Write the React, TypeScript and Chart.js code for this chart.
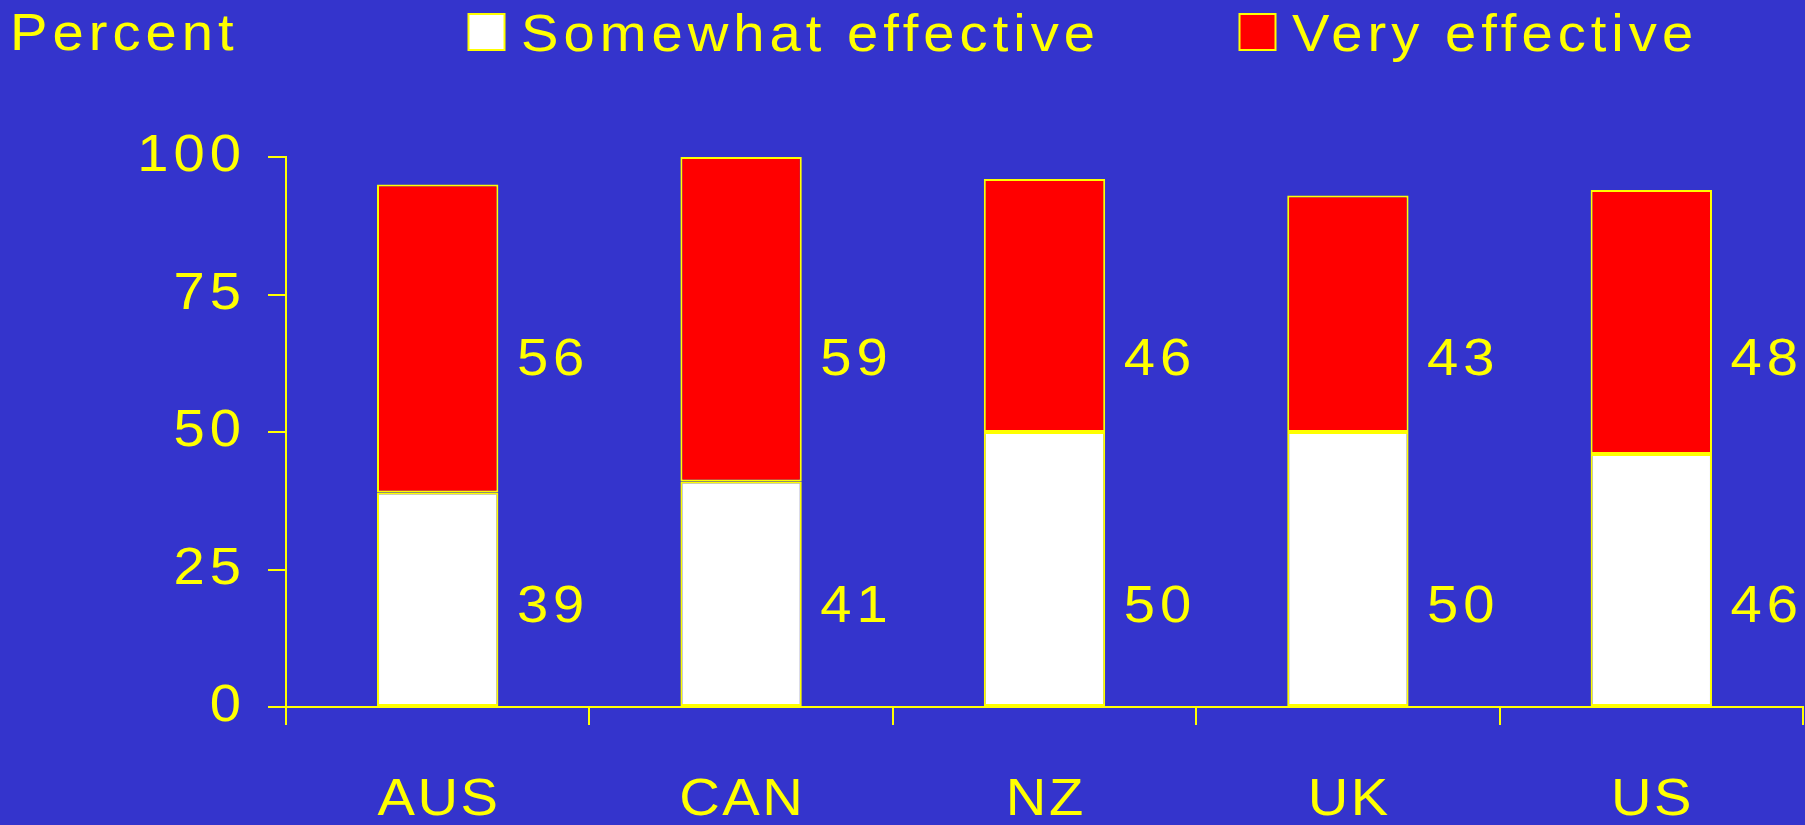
import React, { useEffect, useRef } from 'react';
import { Chart, registerables } from 'chart.js';

Chart.register(...registerables);

const categories = ['AUS', 'CAN', 'NZ', 'UK', 'US'];
const somewhatEffective = [39, 41, 50, 50, 46];
const veryEffective = [56, 59, 46, 43, 48];
const seriesNames = ['Somewhat effective', 'Very effective'];
const yTickValues = [0, 25, 50, 75, 100];
const axisTitle = 'Percent';

const BG = '#3434CC';
const YELLOW = '#FFFF00';
const FONT = "'Liberation Sans', Arial, Helvetica, sans-serif";
const STRETCH = 1.08;
const SPACING = 5;

// Draw horizontally stretched, letter-spaced text (like the original slide font)
function drawText(
  ctx: CanvasRenderingContext2D,
  text: string,
  x: number,
  y: number,
  align: 'left' | 'right' | 'center',
  baseline: CanvasTextBaseline,
  size: number,
  spacing: number = SPACING
) {
  ctx.save();
  ctx.font = `${size}px ${FONT}`;
  (ctx as any).letterSpacing = `${spacing / STRETCH}px`;
  ctx.textAlign = 'left';
  ctx.textBaseline = baseline;
  const w = (ctx.measureText(text).width - spacing / STRETCH) * STRETCH;
  let x0 = x;
  if (align === 'right') x0 = x - w;
  else if (align === 'center') x0 = x - w / 2;
  ctx.translate(x0, y);
  ctx.scale(STRETCH, 1);
  ctx.fillText(text, 0, 0);
  ctx.restore();
}

const bgPlugin = {
  id: 'bgPlugin',
  beforeDraw(chart: any) {
    const ctx = chart.ctx;
    ctx.save();
    ctx.fillStyle = BG;
    ctx.fillRect(0, 0, chart.width, chart.height);
    ctx.restore();
  },
};

const tickLabelsPlugin = {
  id: 'tickLabels',
  afterDraw(chart: any, _args: any, opts: any) {
    const ctx = chart.ctx;
    ctx.save();
    ctx.fillStyle = YELLOW;
    const ys = chart.scales.y;
    ys.ticks.forEach((t: any) => {
      drawText(ctx, String(t.value), ys.right - opts.yOffset, ys.getPixelForValue(t.value), 'right', 'middle', 52);
    });
    const xs = chart.scales.x;
    xs.ticks.forEach((_t: any, i: number) => {
      drawText(ctx, String(chart.data.labels[i]), xs.getPixelForTick(i), xs.top + opts.xOffset, 'center', 'middle', 52, 2.5);
    });
    ctx.restore();
  },
};

const labelsPlugin = {
  id: 'valueLabels',
  afterDatasetsDraw(chart: any, _args: any, opts: any) {
    const ctx = chart.ctx;
    const yScale = chart.scales.y;
    ctx.save();
    ctx.fillStyle = YELLOW;
    chart.data.datasets.forEach((ds: any, i: number) => {
      const meta = chart.getDatasetMeta(i);
      meta.data.forEach((bar: any, j: number) => {
        const x = bar.x + bar.width / 2 + opts.gap;
        const y = yScale.getPixelForValue(opts.anchors[i]);
        drawText(ctx, String(ds.data[j]), x, y, 'left', 'middle', 52);
      });
    });
    ctx.restore();
  },
};

const legendPlugin = {
  id: 'customLegend',
  afterDraw(chart: any, _args: any, opts: any) {
    const ctx = chart.ctx;
    ctx.save();
    ctx.fillStyle = YELLOW;
    drawText(ctx, opts.title, opts.titleX, opts.baseline - 1, 'left', 'alphabetic', 52);
    chart.data.datasets.forEach((ds: any, i: number) => {
      const bx = opts.boxX[i];
      ctx.fillStyle = ds.backgroundColor;
      ctx.fillRect(bx, opts.boxY, opts.boxW, opts.boxH);
      ctx.strokeStyle = YELLOW;
      ctx.lineWidth = 2;
      ctx.strokeRect(bx, opts.boxY, opts.boxW, opts.boxH);
      ctx.fillStyle = YELLOW;
      drawText(ctx, ds.label, bx + opts.boxW + opts.textGap, opts.baseline, 'left', 'alphabetic', 52);
    });
    ctx.restore();
  },
};

export default function App() {
  const canvasRef = useRef<HTMLCanvasElement | null>(null);

  useEffect(() => {
    document.body.style.margin = '0';
    document.body.style.background = BG;
    const canvas = canvasRef.current;
    if (!canvas) return;
    const chart = new Chart(canvas, {
      type: 'bar',
      data: {
        labels: categories,
        datasets: [
          {
            label: seriesNames[0],
            data: somewhatEffective,
            backgroundColor: '#FFFFFF',
            borderColor: YELLOW,
            borderWidth: 2,
            borderSkipped: false,
            barPercentage: 0.4,
            categoryPercentage: 1,
          },
          {
            label: seriesNames[1],
            data: veryEffective,
            backgroundColor: '#FF0000',
            borderColor: YELLOW,
            borderWidth: 2,
            borderSkipped: false,
            barPercentage: 0.4,
            categoryPercentage: 1,
          },
        ],
      },
      options: {
        animation: false,
        responsive: false,
        maintainAspectRatio: false,
        devicePixelRatio: 1,
        layout: { padding: { top: 157, right: 2, left: 0, bottom: 0 } },
        plugins: {
          legend: { display: false },
          tooltip: { enabled: false },
          valueLabels: { gap: 18.5, anchors: [18.0, 63.0] },
          tickLabels: { yOffset: 45, xOffset: 94 },
          customLegend: {
            title: axisTitle,
            titleX: 10,
            baseline: 51,
            boxX: [468.5, 1239.5],
            boxY: 14,
            boxW: 36,
            boxH: 36,
            textGap: 16.5,
          },
        } as any,
        scales: {
          x: {
            stacked: true,
            offset: true,
            afterFit: (s: any) => {
              s.height = 118;
            },
            grid: {
              offset: true,
              drawOnChartArea: false,
              drawTicks: true,
              tickLength: 18,
              color: YELLOW,
              lineWidth: 2,
            },
            border: { display: true, color: YELLOW, width: 2 },
            ticks: { display: false, autoSkip: false, maxRotation: 0 },
          },
          y: {
            stacked: true,
            min: 0,
            max: 100,
            afterFit: (s: any) => {
              s.width = 286;
            },
            afterBuildTicks: (s: any) => {
              s.ticks = yTickValues.map((v) => ({ value: v }));
            },
            grid: {
              drawOnChartArea: false,
              drawTicks: true,
              tickLength: 18,
              color: YELLOW,
              lineWidth: 2,
            },
            border: { display: true, color: YELLOW, width: 2 },
            ticks: { display: false },
          },
        },
      },
      plugins: [bgPlugin, labelsPlugin, tickLabelsPlugin, legendPlugin],
    });
    return () => chart.destroy();
  }, []);

  return (
    <div style={{ width: 1805, height: 825, background: BG }}>
      <canvas ref={canvasRef} width={1805} height={825} style={{ display: 'block' }} />
    </div>
  );
}
